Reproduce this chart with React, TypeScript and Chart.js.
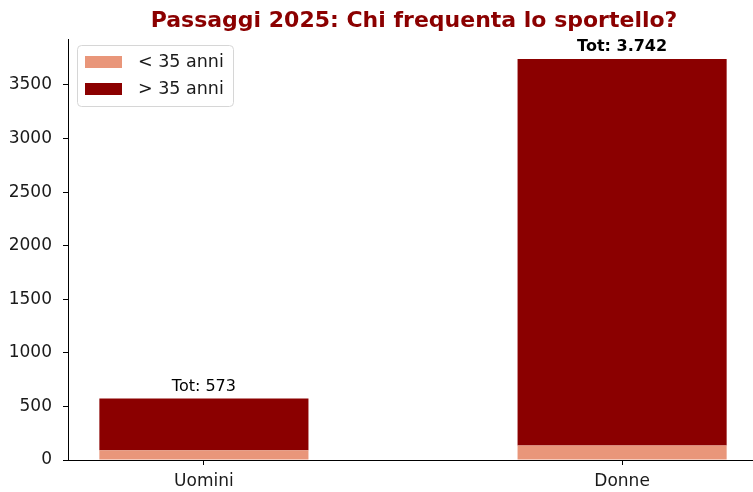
import React, { useEffect, useRef } from "react";
import { Chart, registerables } from "chart.js";

Chart.register(...registerables);

const categories = ["Uomini", "Donne"];
const under35 = [92, 135];
const over35 = [481, 3607];
const seriesLabels = ["< 35 anni", "> 35 anni"];
const yTicks = [0, 500, 1000, 1500, 2000, 2500, 3000, 3500];

const COL_LIGHT = "#E9967A";
const COL_DARK = "#8B0000";
const FONT = "'DejaVu Sans', sans-serif";
const TOTAL_BOLD = [false, true];

const fmtIt = (n: number) => String(n).replace(/\B(?=(\d{3})+(?!\d))/g, ".");

export default function App() {
  const ref = useRef<HTMLCanvasElement>(null);
  useEffect(() => {
    if (!ref.current) return;
    const totals = categories.map((_, i) => under35[i] + over35[i]);
    const yMax = Math.max(...totals) * 1.05;

    const overlay = {
      id: "overlay",
      afterDraw(chart: any) {
        const ctx = chart.ctx;
        const ca = chart.chartArea;
        const xs = chart.scales.x;
        const ys = chart.scales.y;
        ctx.save();
        // title
        ctx.fillStyle = COL_DARK;
        ctx.font = `bold 22px ${FONT}`;
        ctx.textAlign = "center";
        ctx.textBaseline = "alphabetic";
        ctx.fillText("Passaggi 2025: Chi frequenta lo sportello?", 414, 27);
        // totals
        categories.forEach((_, i) => {
          const px = xs.getPixelForValue(i);
          const py = ys.getPixelForValue(totals[i]);
          ctx.fillStyle = "#000";
          ctx.font = `${TOTAL_BOLD[i] ? "bold " : ""}16px ${FONT}`;
          ctx.textAlign = "center";
          ctx.textBaseline = "alphabetic";
          ctx.fillText(`Tot: ${fmtIt(totals[i])}`, px, py - 8);
        });
        // legend
        const lx = ca.left + 9, ly = ca.top + 6, lw = 156, lh = 61;
        ctx.fillStyle = "rgba(255,255,255,0.8)";
        ctx.strokeStyle = "#d6d6d6";
        ctx.lineWidth = 1;
        ctx.beginPath();
        (ctx as any).roundRect(lx + 0.5, ly + 0.5, lw, lh, 4);
        ctx.fill();
        ctx.stroke();
        const cols = [COL_LIGHT, COL_DARK];
        seriesLabels.forEach((lab, k) => {
          const ry = ly + 11 + k * 27;
          ctx.fillStyle = cols[k];
          ctx.fillRect(lx + 8, ry, 37, 12);
          ctx.fillStyle = "#1a1a1a";
          ctx.font = `17.5px ${FONT}`;
          ctx.textAlign = "left";
          ctx.textBaseline = "middle";
          ctx.fillText(lab, lx + 61, ry + 6);
        });
        ctx.restore();
      },
    };

    const chart = new Chart(ref.current, {
      type: "bar",
      data: {
        datasets: [
          {
            label: seriesLabels[0],
            data: categories.map((_, i) => ({ x: i, y: under35[i] })),
            backgroundColor: COL_LIGHT,
            categoryPercentage: 1,
            barPercentage: 0.5,
          },
          {
            label: seriesLabels[1],
            data: categories.map((_, i) => ({ x: i, y: over35[i] })),
            backgroundColor: COL_DARK,
            categoryPercentage: 1,
            barPercentage: 0.5,
          },
        ],
      },
      options: {
        animation: false,
        responsive: false,
        layout: { padding: { top: 39, left: 0, right: 0, bottom: 0 } },
        plugins: { legend: { display: false }, title: { display: false }, tooltip: { enabled: false } },
        scales: {
          x: {
            type: "linear",
            stacked: true,
            offset: false,
            min: -0.325,
            max: 1.313,
            afterBuildTicks: (s: any) => {
              s.ticks = categories.map((_, i) => ({ value: i }));
            },
            afterFit: (s: any) => {
              s.height = 32;
            },
            ticks: {
              callback: (v: any) => categories[v] ?? "",
              font: { family: FONT, size: 17 },
              color: "#1a1a1a",
              padding: 6,
              maxRotation: 0,
              autoSkip: false,
            },
            grid: { offset: false, drawOnChartArea: false, tickLength: 5, color: "#000", tickWidth: 1 },
            border: { display: true, color: "#000", width: 1 },
          },
          y: {
            type: "linear",
            stacked: true,
            min: 0,
            max: yMax,
            afterBuildTicks: (s: any) => {
              s.ticks = yTicks.map((v) => ({ value: v }));
            },
            afterFit: (s: any) => {
              s.width = 68;
            },
            ticks: {
              callback: (v: any) => String(v),
              font: { family: FONT, size: 17 },
              color: "#1a1a1a",
              padding: 11,
            },
            grid: { drawOnChartArea: false, tickLength: 5, color: "#000", tickWidth: 1 },
            border: { display: true, color: "#000", width: 1 },
          },
        },
      } as any,
      plugins: [overlay],
    });
    return () => chart.destroy();
  }, []);
  return (
    <div style={{ position: "absolute", left: 0, top: 0, width: 753, height: 492, background: "#fff" }}>
      <canvas ref={ref} width={753} height={492} style={{ width: 753, height: 492, display: "block" }} />
    </div>
  );
}
